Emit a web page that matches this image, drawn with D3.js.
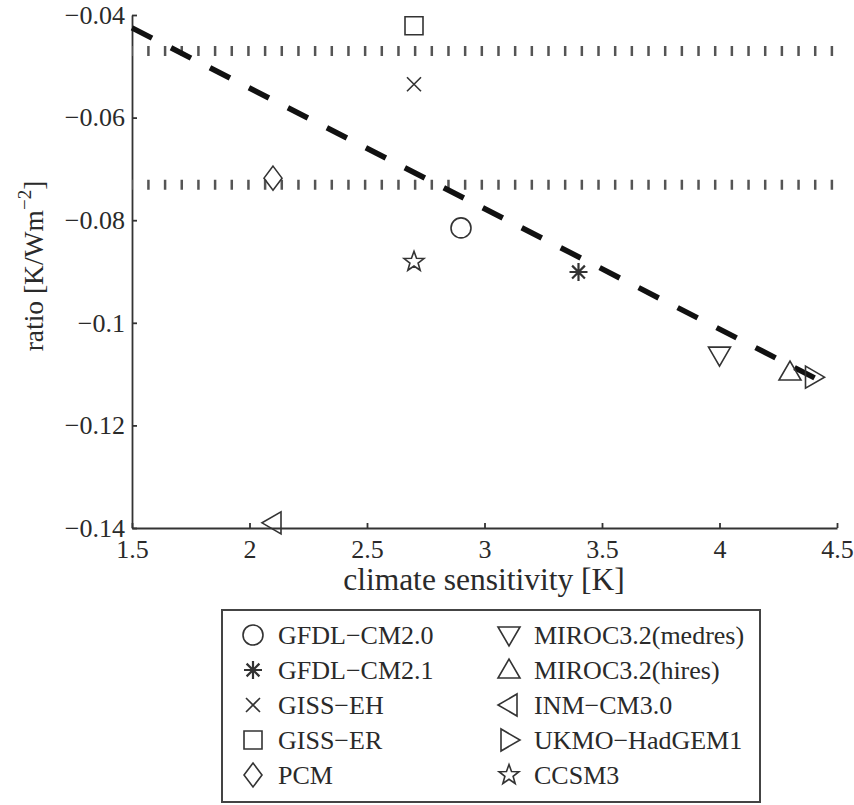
<!DOCTYPE html>
<html>
<head>
<meta charset="utf-8">
<script src="https://cdn.jsdelivr.net/npm/d3@7"></script>
<style>
  body { margin: 0; background: #fff; }
  svg { display: block; font-family: "Liberation Serif", "Times New Roman", serif; }
  .axis path, .axis line { stroke: #333; stroke-width: 1.8; }
  .axis text { fill: #2a2a2a; font-size: 26px; font-family: "Liberation Serif", serif; }
</style>
</head>
<body>
<svg id="canvas" width="854" height="805"></svg>
<script>
// model values
var models = ['GFDL\u2212CM2.0', 'GFDL\u2212CM2.1', 'GISS\u2212EH', 'GISS\u2212ER', 'PCM',
  'MIROC3.2(medres)', 'MIROC3.2(hires)', 'INM\u2212CM3.0', 'UKMO\u2212HadGEM1', 'CCSM3'];
var symbols = ['circle', 'asterisk', 'cross', 'square', 'diamond',
  'triDown', 'triUp', 'triLeft', 'triRight', 'star'];
var sensitivity = [2.9, 3.4, 2.7, 2.7, 2.1, 4.0, 4.3, 2.1, 4.4, 2.7];
var ratio = [-0.0815, -0.0901, -0.0535, -0.0421, -0.0718, -0.1063, -0.1096, -0.139, -0.1106, -0.0881];

// regression line end points and the two dotted reference levels
var fitX = [1.5, 4.42];
var fitY = [-0.0425, -0.1111];
var refLevels = [-0.047, -0.0731];

var xTicks = [1.5, 2, 2.5, 3, 3.5, 4, 4.5];
var yTicks = [-0.14, -0.12, -0.1, -0.08, -0.06, -0.04];

var svg = d3.select('#canvas');
var x = d3.scaleLinear().domain([1.5, 4.5]).range([132, 837]);
var y = d3.scaleLinear().domain([-0.14, -0.04]).range([528, 15]);

// outline marker shapes, roughly matlab sized
function symbolPath(type) {
  switch (type) {
    case 'circle':
      return 'M10,0A10,10 0 1,1 -10,0A10,10 0 1,1 10,0Z';
    case 'asterisk':
      return 'M-9,0H9M0,-9V9M-6.4,-6.4L6.4,6.4M-6.4,6.4L6.4,-6.4';
    case 'cross':
      return 'M-7,-7L7,7M-7,7L7,-7';
    case 'square':
      return 'M-9,-9H9V9H-9Z';
    case 'diamond':
      return 'M0,-12L9,0L0,12L-9,0Z';
    case 'triDown':
      return 'M-11,-8H11L0,11Z';
    case 'triUp':
      return 'M-11,8H11L0,-11Z';
    case 'triLeft':
      return 'M8,-11V11L-11,0Z';
    case 'triRight':
      return 'M-8,-11V11L11,0Z';
    case 'star':
      var pts = [];
      for (var i = 0; i < 10; i++) {
        var r = i % 2 == 0 ? 10.5 : 4.3;
        var a = -Math.PI / 2 + i * Math.PI / 5;
        pts.push([r * Math.cos(a), r * Math.sin(a)]);
      }
      return 'M' + pts.join('L') + 'Z';
  }
}

var fmt = d3.format('~g');

svg.append('g')
  .attr('class', 'axis')
  .attr('transform', 'translate(0,' + y(-0.14) + ')')
  .call(d3.axisBottom(x).tickValues(xTicks).tickFormat(fmt).tickSizeInner(-5).tickSizeOuter(0).tickPadding(12));

svg.append('g')
  .attr('class', 'axis')
  .attr('transform', 'translate(' + x(1.5) + ',0)')
  .call(d3.axisLeft(y).tickValues(yTicks).tickFormat(fmt).tickSizeInner(-5).tickSizeOuter(0).tickPadding(7));

// dotted reference lines
svg.selectAll('.ref')
  .data(refLevels)
  .enter()
  .append('line')
  .attr('class', 'ref')
  .attr('x1', x(1.5))
  .attr('x2', x(4.5))
  .attr('y1', function(d) { return y(d); })
  .attr('y2', function(d) { return y(d); })
  .attr('stroke', '#555')
  .attr('stroke-width', 10)
  .attr('stroke-dasharray', '2.5,14.17')
  .attr('stroke-dashoffset', 1.5);

// dashed fit
svg.append('line')
  .attr('x1', x(fitX[0]))
  .attr('y1', y(fitY[0]))
  .attr('x2', x(fitX[1]))
  .attr('y2', y(fitY[1]))
  .attr('stroke', '#111')
  .attr('stroke-width', 5.5)
  .attr('stroke-dasharray', '22.5,21.3');

var points = models.map(function(m, i) {
  return { name: m, sym: symbols[i], sx: sensitivity[i], r: ratio[i] };
});

svg.selectAll('.pt')
  .data(points)
  .enter()
  .append('path')
  .attr('class', 'pt')
  .attr('d', function(d) { return symbolPath(d.sym); })
  .attr('transform', function(d) { return 'translate(' + x(d.sx) + ',' + y(d.r) + ')'; })
  .attr('fill', 'none')
  .attr('stroke', '#333')
  .attr('stroke-width', function(d) { return d.sym == 'asterisk' ? 2.2 : 1.6; });

// axis labels
svg.append('text')
  .attr('x', 484)
  .attr('y', 590)
  .attr('text-anchor', 'middle')
  .attr('font-size', 31.5)
  .attr('fill', '#2a2a2a')
  .text('climate sensitivity [K]');

var ylab = svg.append('text')
  .attr('transform', 'translate(43,266) rotate(-90)')
  .attr('text-anchor', 'middle')
  .attr('font-size', 27.5)
  .attr('fill', '#2a2a2a');
ylab.append('tspan').text('ratio [K/Wm');
ylab.append('tspan').attr('font-size', 19).attr('dy', -12).text('\u22122');
ylab.append('tspan').attr('dy', 12).text(']');

// legend, two columns of five
var legend = svg.append('g');
legend.append('rect')
  .attr('x', 222)
  .attr('y', 610)
  .attr('width', 538)
  .attr('height', 192)
  .attr('fill', '#fff')
  .attr('stroke', '#444')
  .attr('stroke-width', 2);

var item = legend.selectAll('.item')
  .data(points)
  .enter()
  .append('g')
  .attr('class', 'item')
  .attr('transform', function(d, i) {
    var col = Math.floor(i / 5), row = i % 5;
    return 'translate(' + (col == 0 ? 253 : 509) + ',' + (635 + row * 35) + ')';
  });

item.append('path')
  .attr('d', function(d) { return symbolPath(d.sym); })
  .attr('fill', 'none')
  .attr('stroke', '#333')
  .attr('stroke-width', function(d) { return d.sym == 'asterisk' ? 2.2 : 1.6; });

item.append('text')
  .attr('x', 25)
  .attr('y', 9)
  .attr('font-size', 26)
  .attr('fill', '#2a2a2a')
  .text(function(d) { return d.name; });
</script>
</body>
</html>
